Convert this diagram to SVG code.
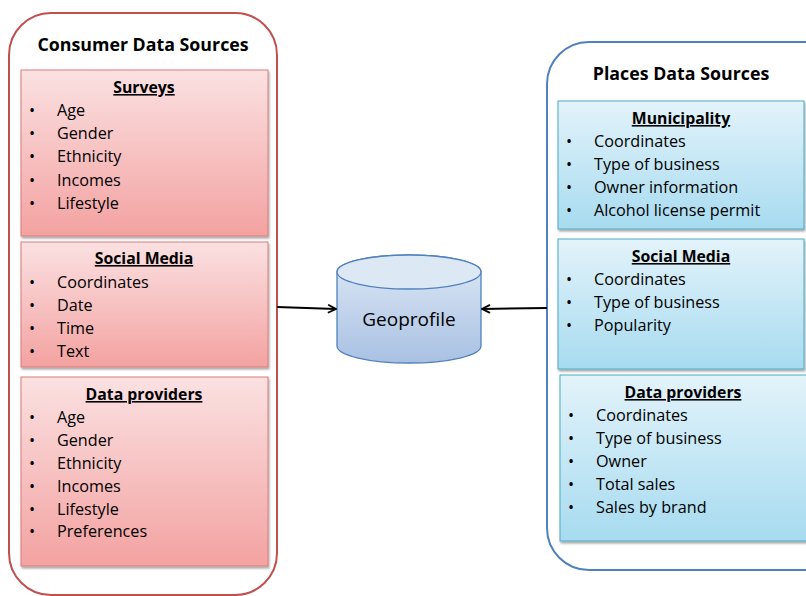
<svg xmlns="http://www.w3.org/2000/svg" width="806" height="596" viewBox="0 0 806 596">
  <defs>
    <linearGradient id="redFill" x1="0" y1="0" x2="0" y2="1">
      <stop offset="0" stop-color="#fbe1e2"/>
      <stop offset="1" stop-color="#f3a2a1"/>
    </linearGradient>
    <linearGradient id="blueFill" x1="0" y1="0" x2="0" y2="1">
      <stop offset="0" stop-color="#e3f3fa"/>
      <stop offset="1" stop-color="#a7dbf0"/>
    </linearGradient>
    <linearGradient id="cylFill" x1="0" y1="0" x2="0" y2="1">
      <stop offset="0" stop-color="#dde8f5"/>
      <stop offset="1" stop-color="#a9c1e3"/>
    </linearGradient>
    <filter id="shadow" x="-5%" y="-5%" width="110%" height="115%">
      <feDropShadow dx="1" dy="2" stdDeviation="1.2" flood-color="#000" flood-opacity="0.35"/>
    </filter>
    <marker id="arrow" viewBox="0 0 10 10" refX="9" refY="5" markerWidth="10" markerHeight="10" markerUnits="userSpaceOnUse" orient="auto">
      <path d="M1,1 L9,5 L1,9" fill="none" stroke="#000" stroke-width="1.8"/>
    </marker>
  </defs>
  <style>
    text { font-family: "Open Sans", "Liberation Sans", sans-serif; fill: #000; }
    .group-title { font-size: 17.8px; font-weight: bold; text-anchor: middle; }
    .box-title { font-size: 15.8px; font-weight: bold; text-anchor: middle; text-decoration: underline; }
    .item { font-size: 16.2px; }
    .red-box { fill: url(#redFill); stroke: #d77c7a; stroke-width: 1; filter: url(#shadow); }
    .blue-box { fill: url(#blueFill); stroke: #4bacc6; stroke-width: 1; filter: url(#shadow); }
    .red-frame { fill: #fff; stroke: #c0504d; stroke-width: 2; }
    .blue-frame { fill: #fff; stroke: #4f81bd; stroke-width: 2; }
    .link { stroke: #000; stroke-width: 2; fill: none; marker-end: url(#arrow); }
  </style>

  <rect width="806" height="596" fill="#fff"/>

  <!-- Consumer side -->
  <g id="consumer-sources">
    <rect class="red-frame" x="9" y="13" width="268" height="582" rx="42" ry="42"/>
    <text class="group-title" x="143" y="51">Consumer Data Sources</text>
  </g>

  <g id="consumer-surveys">
    <rect class="red-box" x="21" y="70" width="247" height="166"/>
    <text class="box-title" x="144" y="93">Surveys</text>
    <g class="item">
      <text x="29" y="116">•</text><text x="57" y="116">Age</text>
      <text x="29" y="139">•</text><text x="57" y="139">Gender</text>
      <text x="29" y="162">•</text><text x="57" y="162">Ethnicity</text>
      <text x="29" y="186">•</text><text x="57" y="186">Incomes</text>
      <text x="29" y="209">•</text><text x="57" y="209">Lifestyle</text>
    </g>
  </g>

  <g id="consumer-social-media">
    <rect class="red-box" x="21" y="242" width="247" height="125"/>
    <text class="box-title" x="144" y="264">Social Media</text>
    <g class="item">
      <text x="29" y="288">•</text><text x="57" y="288">Coordinates</text>
      <text x="29" y="311">•</text><text x="57" y="311">Date</text>
      <text x="29" y="334">•</text><text x="57" y="334">Time</text>
      <text x="29" y="357">•</text><text x="57" y="357">Text</text>
    </g>
  </g>

  <g id="consumer-data-providers">
    <rect class="red-box" x="21" y="377" width="247" height="189"/>
    <text class="box-title" x="144" y="400">Data providers</text>
    <g class="item">
      <text x="29" y="423">•</text><text x="57" y="423">Age</text>
      <text x="29" y="446">•</text><text x="57" y="446">Gender</text>
      <text x="29" y="469">•</text><text x="57" y="469">Ethnicity</text>
      <text x="29" y="492">•</text><text x="57" y="492">Incomes</text>
      <text x="29" y="515">•</text><text x="57" y="515">Lifestyle</text>
      <text x="29" y="537">•</text><text x="57" y="537">Preferences</text>
    </g>
  </g>

  <!-- Places side -->
  <g id="places-sources">
    <rect class="blue-frame" x="547" y="42" width="300" height="528" rx="42" ry="42"/>
    <text class="group-title" x="681" y="80">Places Data Sources</text>
  </g>

  <g id="places-municipality">
    <rect class="blue-box" x="558" y="101" width="246" height="128"/>
    <text class="box-title" x="681" y="124">Municipality</text>
    <g class="item">
      <text x="566" y="147">•</text><text x="594" y="147">Coordinates</text>
      <text x="566" y="170">•</text><text x="594" y="170">Type of business</text>
      <text x="566" y="193">•</text><text x="594" y="193">Owner information</text>
      <text x="566" y="216">•</text><text x="594" y="216">Alcohol license permit</text>
    </g>
  </g>

  <g id="places-social-media">
    <rect class="blue-box" x="558" y="239" width="246" height="130"/>
    <text class="box-title" x="681" y="262">Social Media</text>
    <g class="item">
      <text x="566" y="285">•</text><text x="594" y="285">Coordinates</text>
      <text x="566" y="308">•</text><text x="594" y="308">Type of business</text>
      <text x="566" y="331">•</text><text x="594" y="331">Popularity</text>
    </g>
  </g>

  <g id="places-data-providers">
    <rect class="blue-box" x="560" y="375" width="248" height="166"/>
    <text class="box-title" x="683" y="398">Data providers</text>
    <g class="item">
      <text x="568" y="421">•</text><text x="596" y="421">Coordinates</text>
      <text x="568" y="444">•</text><text x="596" y="444">Type of business</text>
      <text x="568" y="467">•</text><text x="596" y="467">Owner</text>
      <text x="568" y="490">•</text><text x="596" y="490">Total sales</text>
      <text x="568" y="513">•</text><text x="596" y="513">Sales by brand</text>
    </g>
  </g>

  <!-- Central store -->
  <g id="geoprofile">
    <path d="M337,272 L337,346 A72,17 0 0 0 481,346 L481,272 A72,17 0 0 0 337,272 Z" fill="url(#cylFill)" stroke="#4f81bd" stroke-width="1.3"/>
    <ellipse cx="409" cy="272" rx="72" ry="17" fill="#dde8f5" stroke="#4f81bd" stroke-width="1.3"/>
    <text x="409" y="326" font-size="19" text-anchor="middle">Geoprofile</text>
  </g>

  <!-- Connectors -->
  <g id="connectors">
    <line class="link" x1="277" y1="307" x2="336" y2="309"/>
    <line class="link" x1="547" y1="308" x2="482" y2="309"/>
  </g>
</svg>
